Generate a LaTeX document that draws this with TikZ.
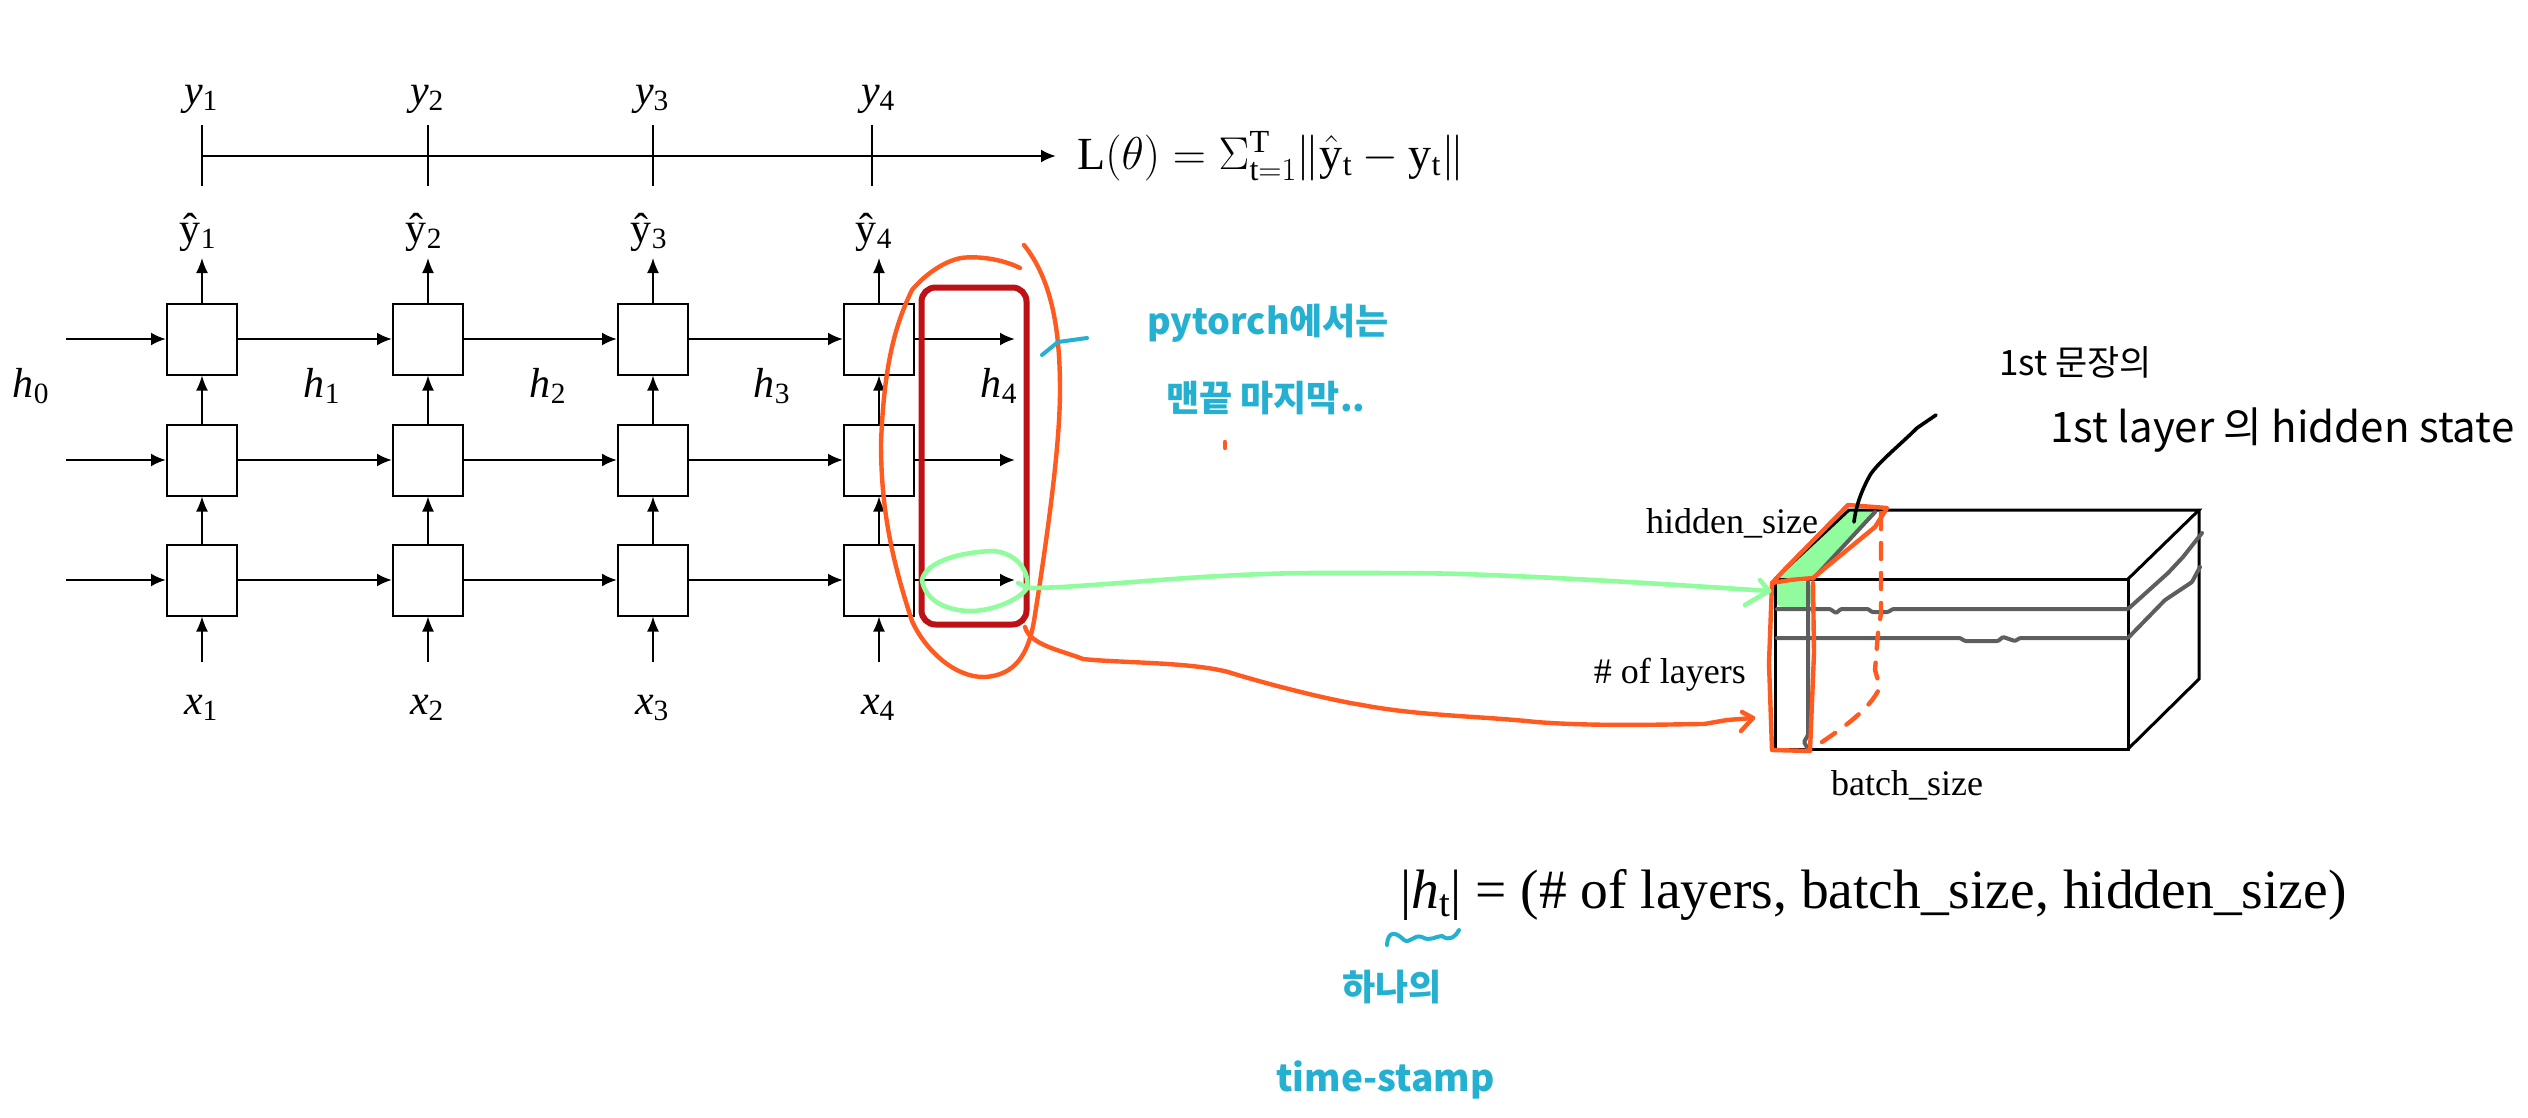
\documentclass[tikz,border=0pt]{standalone}
\usepackage{fix-cm}
\usepackage{fontspec}
\setmainfont{Liberation Serif}
\newfontfamily\handfont{Noto Sans CJK KR}
\usetikzlibrary{arrows.meta, positioning, calc}
\definecolor{cellred}{HTML}{BE1116}
\definecolor{penorange}{HTML}{FF5A1F}
\definecolor{pengreen}{HTML}{90FC9E}
\definecolor{penblue}{HTML}{25AFD0}
\definecolor{pengrey}{HTML}{5E5E5E}
\newcommand{\hsub}[2]{\textit{#1}\textsubscript{#2}}

\begin{document}
\begin{tikzpicture}[
    x=1pt, y=-1pt,
    every node/.style={font=\fontsize{42}{44}\selectfont, inner sep=0pt},
    cell/.style={draw, line width=2pt, fill=white, minimum width=70pt, minimum height=71pt},
    arrow/.style={-{Latex[length=15pt, width=12pt]}, line width=1.6pt},
    hlinearrow/.style={-{Latex[length=15pt, width=13pt]}, line width=2.4pt},
    tick/.style={line width=1.6pt},
    cubeline/.style={line width=3pt, line join=miter},
    greyline/.style={pengrey, line width=4pt, line cap=round, rounded corners=1pt},
    orangepen/.style={penorange, line width=4.4pt, line cap=round, line join=round},
    greenpen/.style={pengreen, line width=4.6pt, line cap=round, line join=round},
    bluepen/.style={penblue, line width=4pt, line cap=round, line join=round},
    hand/.style={font=\handfont\fontsize{#1}{#1}\selectfont},
    bluehand/.style={font=\handfont\bfseries\fontsize{#1}{#1}\selectfont, text=penblue},
    dimlabel/.style={font=\fontsize{36}{40}\selectfont}
]
    \useasboundingbox (0,0) rectangle (2528,1118);

    % grid of cells
    \foreach \col/\xpos/\hatpos/\labpos/\tickpos in {1/202/198/201/202, 2/428/424/427/428, 3/653/649/652/653, 4/879/874/878/872} {
        \foreach \row/\ypos in {a/339, b/460, c/580} {
            \node (cell\row\col) [cell] at (\xpos,\ypos) {};
        }
        \coordinate (in\col) at (\xpos,662);
        \coordinate (out\col) at (\xpos,258);
        \node (x\col) at (\labpos,708) {\hsub{x}{\col}};
        \node (yhat\col) at (\hatpos,232) {ŷ\textsubscript{\col}};
        \node (y\col) at (\labpos,99) {\hsub{y}{\col}};
        \coordinate (ticktop\col) at (\tickpos,125);
        \coordinate (tickbot\col) at (\tickpos,186);
        \draw [arrow] (in\col) -- (cellc\col);
        \draw [arrow] (cellc\col) -- (cellb\col);
        \draw [arrow] (cellb\col) -- (cella\col);
        \draw [arrow] (cella\col) -- (out\col);
        \draw [tick] (ticktop\col) -- (tickbot\col);
    }

    % rows
    \foreach \row/\ypos in {a/339, b/460, c/580} {
        \coordinate (left\row) at (66,\ypos);
        \coordinate (right\row) at (1015,\ypos);
        \draw [hlinearrow] (left\row) -- (cell\row1);
        \draw [hlinearrow] (cell\row1) -- (cell\row2);
        \draw [hlinearrow] (cell\row2) -- (cell\row3);
        \draw [hlinearrow] (cell\row3) -- (cell\row4);
        \draw [hlinearrow] (cell\row4) -- (right\row);
    }

    % loss line
    \node (loss) [anchor=west, font=\fontsize{46}{48}\selectfont] at (1077,156) {$\mathrm{L}(\theta)=\Sigma_{\mathrm{t}=1}^{\mathrm{T}}\|\hat{\mathrm{y}}_{\mathrm{t}}-\mathrm{y}_{\mathrm{t}}\|$};
    \coordinate (lossstart) at (202,156);
    \coordinate (lossend) at (1056,156);
    \draw [hlinearrow] (lossstart) -- (lossend);

    % hidden states
    \foreach \idx/\xpos in {0/31, 1/322, 2/548, 3/772, 4/999} {
        \node (h\idx) at (\xpos,386) {\hsub{h}{\idx}};
    }

    % last step box
    \node (lastbox) [draw=cellred, line width=6pt, rounded corners=14pt, minimum width=105pt, minimum height=337pt] at (974,456) {};

    % cube
    \coordinate (ftl) at (1775,579);
    \coordinate (ftr) at (2128,579);
    \coordinate (fbl) at (1775,749);
    \coordinate (fbr) at (2128,749);
    \coordinate (btl) at (1849,510);
    \coordinate (btr) at (2199,510);
    \coordinate (bbr) at (2199,679);
    \fill [pengreen] (1777,578) -- (1849,512) -- (1878,512) -- (1813,579) -- cycle;
    \fill [pengreen, rounded corners=8pt] (1775,582) -- (1812,582) -- (1812,607) -- (1775,607) -- cycle;
    \draw [cubeline] (ftl) -- (ftr) -- (fbr) -- (fbl) -- cycle;
    \draw [cubeline] (ftl) -- (btl) -- (btr) -- (ftr);
    \draw [cubeline] (btr) -- (bbr) -- (fbr);

    % slices on the cube
    \draw [greyline] (1777,609) -- (1830,609) -- (1836,613) -- (1841,609) -- (1868,609) -- (1872,612) -- (1888,612) -- (1893,609) -- (2128,609) -- (2168,573) -- (2183,557) -- (2202,533);
    \draw [greyline] (1777,638) -- (1960,638) -- (1965,641) -- (1998,641) -- (2003,637) -- (2015,641) -- (2020,638) -- (2128,638) -- (2165,600) -- (2192,582) -- (2200,567);
    \draw [greyline] (1813,579) -- (1875,512);
    \draw [greyline] (1808,582) -- (1808,735) -- (1804,742) -- (1808,749);

    % orange outlines
    \draw [orangepen] (1020,268) .. controls (1000,258) and (975,256) .. (961,258) .. controls (940,262) and (920,280) .. (912,290) .. controls (895,325) and (884,365) .. (881,443) .. controls (881,510) and (892,560) .. (912,621) .. controls (925,650) and (955,678) .. (985,677) .. controls (1015,675) and (1028,655) .. (1034,621) .. controls (1050,520) and (1060,440) .. (1060,390) .. controls (1060,330) and (1052,280) .. (1024,245);
    \draw [orangepen] (1025,627) .. controls (1030,645) and (1060,650) .. (1083,659) .. controls (1120,663) and (1190,662) .. (1228,672) .. controls (1270,685) and (1330,700) .. (1362,705) .. controls (1420,716) and (1480,716) .. (1536,722) .. controls (1600,727) and (1680,724) .. (1704,724) -- (1727,720) -- (1753,718);
    \draw [orangepen] (1742,712) -- (1753,718) -- (1741,731);
    \draw [orangepen] (1772,583) -- (1786,568) -- (1848,505) -- (1887,508) -- (1875,527) -- (1813,578) -- (1790,580) -- cycle;
    \draw [orangepen] (1772,583) -- (1769,663) -- (1772,750) -- (1810,751) -- (1814,653) -- (1813,583);
    \draw [orangepen, dashed, dash pattern=on 16pt off 14pt] (1881,513) -- (1881,613) -- (1878,633) -- (1875,670) -- (1880,687) .. controls (1870,710) and (1840,730) .. (1813,748);
    \draw [orangepen] (1225,442) -- (1225,448);

    % green marks
    \draw [greenpen] (922,580) .. controls (925,565) and (950,553) .. (992,551) .. controls (1015,552) and (1030,570) .. (1027,588) .. controls (1020,600) and (990,612) .. (968,611) .. controls (945,610) and (925,600) .. (922,580);
    \draw [greenpen] (1018,583) -- (1029,588) .. controls (1090,588) and (1200,573) .. (1321,573) .. controls (1400,573) and (1450,573) .. (1487,575) .. controls (1570,578) and (1680,585) .. (1769,591);
    \draw [greenpen] (1760,580) -- (1769,591) -- (1745,605);

    % cube labels
    \node (hiddenlabel) [dimlabel, anchor=west] at (1646,523) {hidden\_size};
    \node (layerslabel) [dimlabel, anchor=east] at (1746,675) {\# of layers};
    \node (batchlabel) [dimlabel, anchor=west] at (1831,785) {batch\_size};
    \node (shape) [anchor=west, font=\fontsize{55.5}{58}\selectfont] at (1400,895) {|\textit{h}\textsubscript{t}| = (\# of layers, batch\_size, hidden\_size)};

    % black notes
    \draw [line width=3.6pt, line cap=round, line join=round] (1936,415) -- (1917,428) .. controls (1900,445) and (1875,465) .. (1869,477) .. controls (1862,490) and (1856,505) .. (1854,522);
    \node (notefirst) [hand=35, anchor=west] at (1999,362) {1st 문장의};
    \node (notesecond) [hand=42, anchor=west] at (2050,430) {1st layer 의 hidden state};

    % blue notes
    \draw [bluepen] (1042,355) -- (1058,342) -- (1087,338);
    \node (notepytorch) [bluehand=36, anchor=west] at (1147,323) {pytorch에서는};
    \node (notelast) [bluehand=36, anchor=west] at (1166,398) {맨끝 마지막..};
    \draw [bluepen] (1387,945) .. controls (1388,930) and (1396,932) .. (1404,940) .. controls (1410,944) and (1414,934) .. (1422,937) .. controls (1430,942) and (1436,936) .. (1442,936) .. controls (1450,942) and (1456,936) .. (1459,930);
    \node (noteone) [bluehand=36, anchor=west] at (1342,987) {하나의};
    \node (notestamp) [bluehand=37, anchor=west] at (1276,1080) {time-stamp};
\end{tikzpicture}
\end{document}
